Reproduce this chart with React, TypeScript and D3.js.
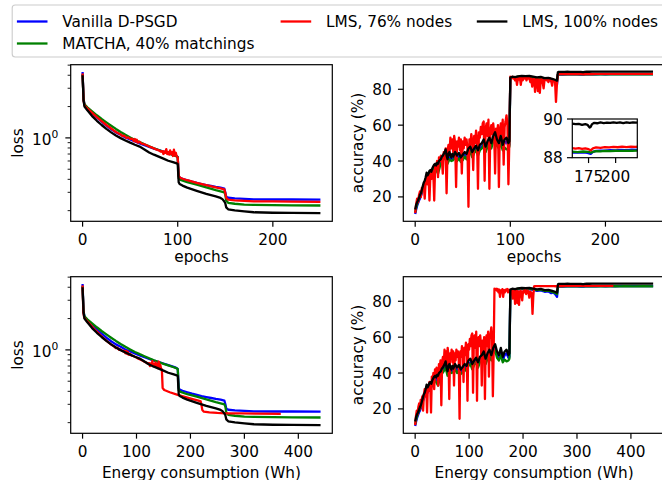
import React from 'react';
import * as d3 from 'd3';

type P = [number, number];

// ---------- data (epoch, value) ----------
const lossBlue: P[] = [[0,4.3],[1,2.35],[2,2.08],[5,1.93],[10,1.74],[15,1.57],[20,1.43],[25,1.31],[30,1.21],[35,1.13],[40,1.07],[45,1.01],[50,0.965],[55,0.925],[60,0.885],[65,0.85],[70,0.82],[75,0.79],[80,0.765],[85,0.74],[90,0.715],[95,0.69],[98,0.675],[100,0.655],[101,0.43],[102,0.415],[105,0.405],[110,0.392],[115,0.38],[120,0.37],[125,0.36],[130,0.352],[135,0.345],[140,0.338],[145,0.332],[149,0.325],[150,0.3],[151,0.272],[153,0.266],[160,0.262],[170,0.259],[180,0.257],[200,0.256],[220,0.256],[250,0.255]];
const lossGreen: P[] = [[0,4.1],[1,2.35],[2,2.1],[5,1.97],[10,1.8],[15,1.65],[20,1.52],[25,1.41],[30,1.31],[35,1.22],[40,1.14],[45,1.07],[50,1.01],[55,0.955],[60,0.91],[65,0.87],[70,0.83],[75,0.795],[80,0.765],[85,0.735],[90,0.71],[95,0.685],[99,0.665],[100,0.65],[101,0.41],[103,0.395],[110,0.375],[120,0.355],[130,0.335],[140,0.315],[145,0.307],[149,0.3],[150,0.285],[151,0.25],[153,0.238],[160,0.233],[170,0.229],[180,0.227],[200,0.226],[220,0.225],[250,0.224]];
const lossRed: P[] = [[0,4.17],[1,2.3],[2,2.05],[5,1.92],[10,1.74],[15,1.58],[20,1.45],[25,1.33],[30,1.23],[35,1.14],[40,1.08],[42,1.04],[44,1.05],[46,1.0],[48,1.01],[50,0.975],[52,0.985],[54,0.93],[55,0.975],[56,0.92],[57,0.96],[58,0.9],[60,0.92],[62,0.88],[64,0.875],[66,0.86],[68,0.845],[70,0.825],[72,0.815],[74,0.8],[76,0.785],[78,0.77],[80,0.76],[82,0.74],[84,0.745],[85,0.7],[86,0.74],[87,0.72],[88,0.78],[89,0.7],[90,0.73],[91,0.69],[92,0.76],[93,0.7],[94,0.73],[95,0.67],[96,0.77],[97,0.68],[98,0.72],[99,0.66],[100,0.65],[101,0.43],[103,0.412],[110,0.392],[120,0.37],[130,0.352],[140,0.335],[145,0.327],[149,0.32],[150,0.295],[151,0.265],[153,0.255],[160,0.251],[170,0.248],[180,0.246],[200,0.245],[220,0.244],[250,0.243]];
const lossBlack: P[] = [[0,4.0],[1,2.3],[2,2.0],[5,1.84],[10,1.62],[15,1.46],[20,1.33],[25,1.22],[30,1.13],[35,1.055],[40,0.995],[45,0.945],[50,0.9],[55,0.86],[60,0.825],[65,0.775],[70,0.725],[75,0.69],[80,0.66],[85,0.632],[90,0.603],[95,0.585],[99,0.57],[100,0.56],[101,0.375],[102,0.36],[105,0.348],[110,0.333],[120,0.31],[130,0.29],[140,0.274],[145,0.265],[147,0.258],[149,0.245],[150,0.235],[151,0.215],[153,0.206],[160,0.201],[170,0.197],[180,0.193],[200,0.191],[220,0.19],[250,0.189]];

const accBlue: P[] = [[0,10.5],[1,13],[2,15],[3,16.5],[4,18],[5,19],[6,20.5],[7,22],[8,24],[9,25.5],[10,27],[11,28],[12,30],[13,29],[14,31],[15,32.5],[16,33],[17,32],[18,34],[19,35.5],[20,36.5],[22,36],[24,37.5],[26,39],[28,41],[30,42],[32,44],[34,40],[36,42],[38,41],[40,41.5],[42,43],[44,41],[46,42.5],[48,40.5],[50,42],[52,43.5],[54,42],[56,45],[58,46],[60,43.5],[62,45.5],[64,47],[66,44.5],[68,47],[70,48],[72,50],[74,46],[76,49],[78,51],[80,48],[82,52],[84,54],[86,50],[88,48],[90,52],[92,47],[94,50],[96,51],[98,48.5],[99,49],[100,86],[102,86.5],[105,86.2],[108,86.6],[112,86.9],[116,86.7],[120,86.8],[124,86.3],[128,85.8],[132,86.1],[136,85.3],[140,85.5],[143,84.5],[145,84.9],[147,84],[149,82.5],[150,88.15],[151,88.22],[155,88.25],[160,88.27],[165,88.26],[170,88.28],[174,88.25],[177,88.2],[179,88.3],[182,88.35],[186,88.37],[190,88.36],[195,88.39],[200,88.38],[205,88.4],[210,88.39],[215,88.41],[220,88.4],[230,88.41],[240,88.4],[250,88.41]];
const accGreen: P[] = [[0,11.5],[1,14],[2,16],[3,17.5],[4,19],[5,20],[6,21.5],[7,23],[8,25],[9,26.5],[10,28],[11,29],[12,31],[13,30],[14,31.5],[15,33],[16,33.5],[17,32.5],[18,34],[19,35],[20,36],[22,35],[24,33],[26,37],[28,39.5],[30,41],[32,43],[34,38.5],[36,41],[38,40],[40,40.5],[42,42],[44,40],[46,41.5],[48,39.5],[50,40.5],[52,42.5],[54,41],[56,44],[58,45],[60,42],[62,44.5],[64,46],[66,43],[68,46],[70,47],[72,49],[74,45],[76,48],[78,50],[80,47],[82,51],[84,52.5],[86,48.5],[88,47],[90,50],[92,46],[94,47.5],[96,46.5],[98,47],[99,48],[100,86.2],[102,86.8],[105,86.6],[108,87],[112,87.2],[116,87],[120,87.1],[124,86.6],[128,86.2],[132,86.5],[136,85.8],[140,85.9],[144,85.2],[147,84.6],[149,84],[150,88.2],[151,88.28],[155,88.3],[160,88.31],[165,88.29],[170,88.32],[175,88.3],[177,88.26],[179,88.3],[182,88.34],[186,88.33],[190,88.35],[195,88.34],[200,88.36],[205,88.35],[210,88.37],[215,88.36],[220,88.37],[230,88.36],[240,88.37],[250,88.36]];
const accRed: P[] = [[0,11],[1,16],[2,19],[3,17],[4,21],[5,23],[6,20],[7,25],[8,24],[9,27],[10,19],[11,28],[12,31],[13,27],[14,32],[15,18],[16,33],[17,30],[18,35],[19,34],[20,18],[21,38],[22,36],[23,40],[24,31],[25,42],[26,40],[27,43],[28,41],[29,33],[30,45],[31,43],[32,47],[33,22],[34,46],[35,49],[36,44],[37,53],[38,47],[39,52],[40,45],[41,54],[42,50],[43,25.5],[44,51],[45,48],[46,53],[47,46],[48,52],[49,33],[50,51],[51,47],[52,53],[53,49],[54,52],[55,47],[56,14.5],[57,52],[58,49],[59,55],[60,51],[61,35],[62,54],[63,50],[64,57],[65,52],[66,24.5],[67,56],[68,53],[69,59],[70,55],[71,61],[72,62],[73,29],[74,58],[75,61],[76,54],[77,63],[78,24.5],[79,57],[80,60],[81,55],[82,61],[83,56],[84,33],[85,58],[86,54],[87,60],[88,25.5],[89,57],[90,61],[91,55],[92,63],[93,38],[94,59],[95,62],[96,65.5],[97,60],[98,27],[99,52],[100,87],[101,86.5],[102,87],[103,86],[104,86.8],[105,85],[106,86.5],[107,82.5],[108,86],[109,85.5],[110,86.8],[111,82.5],[112,86.2],[113,85],[114,86.5],[115,86],[116,86.8],[117,85],[118,86.5],[119,86],[120,86.3],[121,84],[122,86],[123,81.5],[124,85.5],[125,86],[126,78.5],[127,85],[128,86],[129,79],[130,85.5],[131,78],[132,85],[133,86],[134,84],[135,80.5],[136,85.5],[137,86],[138,85],[139,86.2],[140,84],[141,85.8],[142,86],[143,84.5],[144,82],[145,85.5],[146,85],[147,84.5],[148,73],[149,83],[150,88.35],[151,88.45],[154,88.48],[157,88.46],[160,88.5],[163,88.47],[166,88.49],[169,88.46],[172,88.48],[175,88.44],[177,88.38],[179,88.48],[182,88.53],[186,88.51],[190,88.55],[194,88.53],[198,88.56],[202,88.54],[206,88.57],[210,88.55],[214,88.57],[218,88.56],[222,88.57],[230,88.56],[240,88.57],[250,88.56]];
const accBlack: P[] = [[0,13],[1,15.5],[2,17],[3,18],[4,19.5],[5,21],[6,22],[7,24],[8,26],[9,28],[10,29],[11,31],[12,33.5],[13,32],[14,33],[15,34.5],[16,35],[17,34],[18,36],[19,37],[20,38],[21,38.5],[22,37.5],[23,39],[24,38.5],[25,40],[26,40.5],[27,41],[28,42.5],[29,43],[30,44],[31,45],[32,46.5],[33,43],[34,41],[35,44],[36,45],[37,43],[38,42],[39,44],[40,42.5],[42,45],[44,43],[46,44.5],[48,42],[50,43.5],[52,45],[54,44],[56,47],[58,48],[60,45],[62,47],[64,48.5],[66,46],[68,49],[70,50],[72,52],[74,48],[76,51],[78,53],[80,50],[82,54],[84,56],[86,52],[88,50],[90,54],[92,49],[94,52],[96,53],[98,50],[99,51],[100,86.5],[102,87],[105,86.8],[108,87.2],[112,87.5],[116,87.3],[120,87.4],[124,87],[128,86.6],[132,86.9],[136,86.2],[140,86.4],[144,85.8],[147,85.3],[149,84.8],[150,89.45],[151,89.7],[154,89.75],[157,89.72],[160,89.76],[163,89.73],[166,89.75],[169,89.7],[172,89.74],[174,89.7],[176,89.56],[177,89.6],[178,89.72],[180,89.8],[183,89.78],[186,89.82],[189,89.79],[192,89.81],[195,89.8],[198,89.83],[201,89.8],[204,89.82],[207,89.79],[210,89.83],[213,89.8],[216,89.82],[219,89.81],[222,89.83],[230,89.8],[240,89.82],[250,89.81]];

const seriesLabels = ['Vanilla D-PSGD', 'MATCHA, 40% matchings', 'LMS, 76% nodes', 'LMS, 100% nodes'];
const seriesColors = ['#0000ff', '#008000', '#ff0000', '#000000'];
const whPerEpoch = [1.765, 1.765, 1.47, 1.765];
const epochOnly = [1, 1, 1, 1];

const epochTicks = [0, 100, 200];
const energyTicks = [0, 100, 200, 300, 400];
const accTicks = [20, 40, 60, 80];
const insetXTicks = [175, 200];
const insetYTicks = [88, 90];

const epochDomain: [number, number] = [-12.5, 262.5];
const energyDomain: [number, number] = [-22, 463];
const lossDomain: [number, number] = [0.158, 5.05];
const accDomain: [number, number] = [6.4, 93.7];
const insetXDomain: [number, number] = [160, 220];
const insetYDomain: [number, number] = [88, 90];

// ---------- layout ----------
const W = 662, H = 480;
const FONT = "'DejaVu Sans', sans-serif";
const FS = 15.3;
const LW = 2.3;
const SPINE = 1.2;
const TICK = 5.35;
const MINOR = 3.06;

const COLX = { l: [70.7, 332.3], r: [403.3, 664.9] };
const ROWY = { t: [64.7, 221.3], b: [276.7, 433.3] };

type PanelDef = {
  id: string; cx: number[]; ry: number[]; xDom: [number, number]; log: boolean;
  data: P[][]; factors: number[]; xTicks: number[]; xLabel: string; xLabelY: number;
  yLabel: string; yLabelX: number;
};

function renderPanel(p: PanelDef) {
  const [x0, x1] = p.cx; const [y0, y1] = p.ry;
  const x = d3.scaleLinear().domain(p.xDom).range([x0, x1]);
  const y = p.log
    ? d3.scaleLog().domain(lossDomain).range([y1, y0])
    : d3.scaleLinear().domain(accDomain).range([y1, y0]);
  const clipId = 'clip-' + p.id;
  const paths = p.data.map((arr, i) => {
    const f = p.factors[i];
    const line = d3.line<P>().x(d => x(d[0] * f)).y(d => y(d[1]));
    return <path key={i} d={line(arr) || ''} fill="none" stroke={seriesColors[i]} strokeWidth={LW} strokeLinejoin="round" strokeLinecap="butt" />;
  });
  const yMajor: React.ReactNode[] = [];
  const yMinor: React.ReactNode[] = [];
  if (p.log) {
    const major = [1];
    const minor = [0.2, 0.3, 0.4, 0.5, 0.6, 0.7, 0.8, 0.9, 2, 3, 4, 5].filter(v => v > lossDomain[0] && v < lossDomain[1]);
    major.forEach((v, i) => {
      const yy = y(v);
      yMajor.push(<line key={'ym' + i} x1={x0} x2={x0 - TICK} y1={yy} y2={yy} stroke="#000" strokeWidth={SPINE} />);
      yMajor.push(
        <text key={'yl' + i} x={x0 - 12.4} y={yy + 7} textAnchor="end" fontSize={FS} fontFamily={FONT}>
          10<tspan dy={-6.8} fontSize={FS * 0.7}>0</tspan>
        </text>
      );
    });
    minor.forEach((v, i) => {
      const yy = y(v);
      yMinor.push(<line key={'yn' + i} x1={x0} x2={x0 - MINOR} y1={yy} y2={yy} stroke="#000" strokeWidth={0.9} />);
    });
  } else {
    accTicks.forEach((v, i) => {
      const yy = y(v);
      yMajor.push(<line key={'ym' + i} x1={x0} x2={x0 - TICK} y1={yy} y2={yy} stroke="#000" strokeWidth={SPINE} />);
      yMajor.push(<text key={'yl' + i} x={x0 - 11.5} y={yy + 5.5} textAnchor="end" fontSize={FS} fontFamily={FONT}>{v}</text>);
    });
  }
  const xt = p.xTicks.map((v, i) => {
    const xx = x(v);
    return (
      <g key={'xt' + i}>
        <line x1={xx} x2={xx} y1={y1} y2={y1 + TICK} stroke="#000" strokeWidth={SPINE} />
        <text x={xx} y={y1 + 24} textAnchor="middle" fontSize={FS} fontFamily={FONT}>{v}</text>
      </g>
    );
  });
  const cy = (y0 + y1) / 2;
  return (
    <g key={p.id}>
      <defs>
        <clipPath id={clipId}><rect x={x0} y={y0} width={x1 - x0} height={y1 - y0} /></clipPath>
      </defs>
      <g clipPath={`url(#${clipId})`}>{paths}</g>
      <rect x={x0} y={y0} width={x1 - x0} height={y1 - y0} fill="none" stroke="#000" strokeWidth={SPINE} />
      {yMinor}
      {yMajor}
      {xt}
      <text x={(x0 + x1) / 2} y={p.xLabelY} textAnchor="middle" fontSize={FS} fontFamily={FONT}>{p.xLabel}</text>
      <text transform={`translate(${p.yLabelX},${cy}) rotate(-90)`} textAnchor="middle" fontSize={FS} fontFamily={FONT}>{p.yLabel}</text>
    </g>
  );
}

function renderInset() {
  const x0 = 572.3, x1 = 637.3, y0 = 119, y1 = 157.7;
  const x = d3.scaleLinear().domain(insetXDomain).range([x0, x1]);
  const y = d3.scaleLinear().domain(insetYDomain).range([y1, y0]);
  const data = [accBlue, accGreen, accRed, accBlack];
  const line = d3.line<P>().x(d => x(d[0])).y(d => y(d[1]));
  return (
    <g key="inset">
      <defs>
        <clipPath id="clip-inset"><rect x={x0} y={y0} width={x1 - x0} height={y1 - y0} /></clipPath>
      </defs>
      <rect x={x0} y={y0} width={x1 - x0} height={y1 - y0} fill="#fff" />
      <g clipPath="url(#clip-inset)">
        {data.map((arr, i) => (
          <path key={i} d={line(arr) || ''} fill="none" stroke={seriesColors[i]} strokeWidth={LW} strokeLinejoin="round" />
        ))}
      </g>
      <rect x={x0} y={y0} width={x1 - x0} height={y1 - y0} fill="none" stroke="#000" strokeWidth={SPINE} />
      {insetYTicks.map((v, i) => (
        <g key={'iy' + i}>
          <line x1={x0} x2={x0 - TICK} y1={y(v)} y2={y(v)} stroke="#000" strokeWidth={SPINE} />
          <text x={x0 - 9.5} y={y(v) + 5.5} textAnchor="end" fontSize={FS} fontFamily={FONT}>{v}</text>
        </g>
      ))}
      {insetXTicks.map((v, i) => (
        <g key={'ix' + i}>
          <line x1={x(v)} x2={x(v)} y1={y1} y2={y1 + TICK} stroke="#000" strokeWidth={SPINE} />
          <text x={x(v)} y={y1 + 24} textAnchor="middle" fontSize={FS} fontFamily={FONT}>{v}</text>
        </g>
      ))}
    </g>
  );
}

function renderLegend() {
  const lineStarts = [16.9, 16.9, 280.6, 476.8];
  const rowsY = [21.5, 43.5, 21.5, 21.5];
  return (
    <g key="legend">
      <rect x={12.2} y={5} width={660} height={52} rx={3} ry={3} fill="#fff" fillOpacity={0.8} stroke="#cccccc" strokeWidth={1.1} />
      {seriesLabels.map((lab, i) => (
        <g key={i}>
          <line x1={lineStarts[i]} x2={lineStarts[i] + 30.6} y1={rowsY[i]} y2={rowsY[i]} stroke={seriesColors[i]} strokeWidth={LW} />
          <text x={lineStarts[i] + 45.4} y={rowsY[i] + 5.5} fontSize={FS} fontFamily={FONT}>{lab}</text>
        </g>
      ))}
    </g>
  );
}

export default function App() {
  const lossData = [lossBlue, lossGreen, lossRed, lossBlack];
  const accData = [accBlue, accGreen, accRed, accBlack];
  const panels: PanelDef[] = [
    { id: 'tl', cx: COLX.l, ry: ROWY.t, xDom: epochDomain, log: true, data: lossData, factors: epochOnly, xTicks: epochTicks, xLabel: 'epochs', xLabelY: 262, yLabel: 'loss', yLabelX: 23.3 },
    { id: 'tr', cx: COLX.r, ry: ROWY.t, xDom: epochDomain, log: false, data: accData, factors: epochOnly, xTicks: epochTicks, xLabel: 'epochs', xLabelY: 262, yLabel: 'accuracy (%)', yLabelX: 363 },
    { id: 'bl', cx: COLX.l, ry: ROWY.b, xDom: energyDomain, log: true, data: lossData, factors: whPerEpoch, xTicks: energyTicks, xLabel: 'Energy consumption (Wh)', xLabelY: 477.5, yLabel: 'loss', yLabelX: 23.3 },
    { id: 'br', cx: COLX.r, ry: ROWY.b, xDom: energyDomain, log: false, data: accData, factors: whPerEpoch, xTicks: energyTicks, xLabel: 'Energy consumption (Wh)', xLabelY: 477.5, yLabel: 'accuracy (%)', yLabelX: 363 },
  ];
  return (
    <svg width={W} height={H} viewBox={`0 0 ${W} ${H}`} style={{ position: 'absolute', left: 0, top: 0, background: '#fff' }}>
      <rect x={0} y={0} width={W} height={H} fill="#fff" />
      {panels.map(renderPanel)}
      {renderInset()}
      {renderLegend()}
    </svg>
  );
}
